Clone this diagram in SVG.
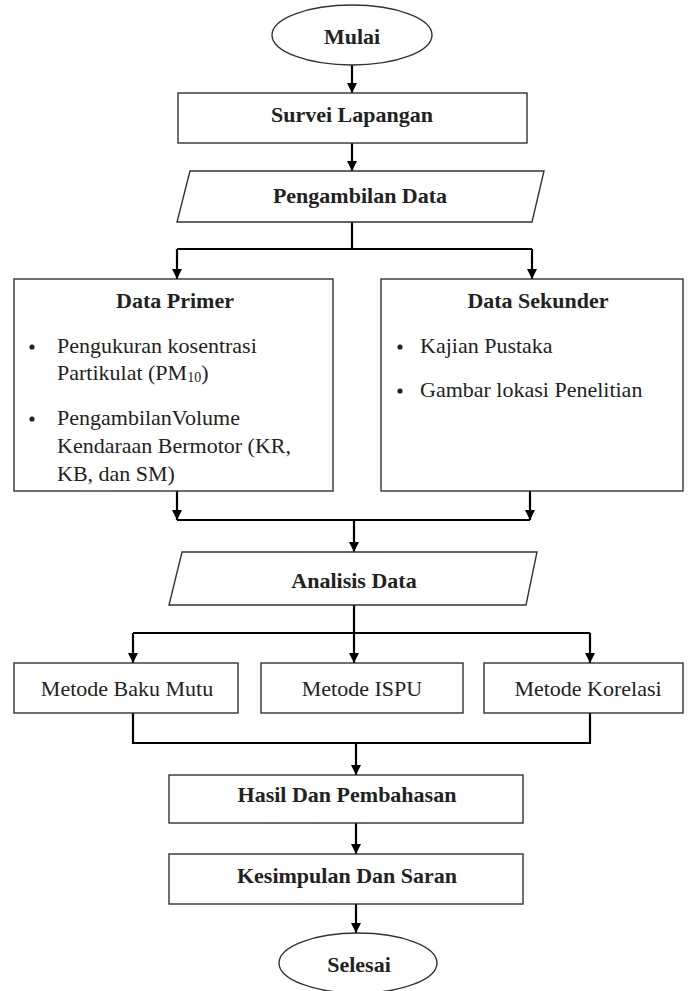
<svg xmlns="http://www.w3.org/2000/svg" width="698" height="991" viewBox="0 0 698 991">
<style>
.box{fill:#fff;stroke:#333;stroke-width:1.4}
.c{fill:none;stroke:#000;stroke-width:2.2}
.t{font-family:"Liberation Serif","Times New Roman",serif;font-size:22px;fill:#222}
.b{font-weight:bold;text-anchor:middle}
.m{text-anchor:middle}
</style>
<defs>
<marker id="ah" markerUnits="userSpaceOnUse" markerWidth="10" markerHeight="10" refX="10" refY="5" orient="auto" viewBox="0 0 10 10">
<path d="M0,0 L10,5 L0,10 z" fill="#000"/>
</marker>
</defs>
<rect width="698" height="991" fill="#fff"/>
<g id="connectors">
<line class="c" x1="352" y1="65" x2="352" y2="93" marker-end="url(#ah)"/>
<line class="c" x1="352" y1="143" x2="352" y2="171" marker-end="url(#ah)"/>
<line class="c" x1="352" y1="222" x2="352" y2="249"/>
<line class="c" x1="177" y1="249" x2="532" y2="249"/>
<line class="c" x1="177" y1="249" x2="177" y2="279" marker-end="url(#ah)"/>
<line class="c" x1="532" y1="249" x2="532" y2="279" marker-end="url(#ah)"/>
<line class="c" x1="177" y1="491" x2="177" y2="520" marker-end="url(#ah)"/>
<line class="c" x1="530" y1="491" x2="530" y2="520" marker-end="url(#ah)"/>
<line class="c" x1="177" y1="520" x2="530" y2="520"/>
<line class="c" x1="354" y1="520" x2="354" y2="552" marker-end="url(#ah)"/>
<line class="c" x1="354" y1="605" x2="354" y2="663" marker-end="url(#ah)"/>
<line class="c" x1="133" y1="633" x2="590" y2="633"/>
<line class="c" x1="133" y1="633" x2="133" y2="663" marker-end="url(#ah)"/>
<line class="c" x1="590" y1="633" x2="590" y2="663" marker-end="url(#ah)"/>
<polyline class="c" points="133,713 133,743 590,743 590,713"/>
<line class="c" x1="356" y1="743" x2="356" y2="775" marker-end="url(#ah)"/>
<line class="c" x1="356" y1="823" x2="356" y2="854" marker-end="url(#ah)"/>
<line class="c" x1="356" y1="904" x2="356" y2="933" marker-end="url(#ah)"/>
</g>
<g id="mulai">
<ellipse class="box" cx="352" cy="35" rx="80" ry="30"/>
<text class="t b" x="352" y="44">Mulai</text>
</g>
<g id="survei">
<rect class="box" x="178" y="93" width="349" height="50"/>
<text class="t b" x="352" y="122">Survei Lapangan</text>
</g>
<g id="pengambilan">
<polygon class="box" points="190,171 544,171 532,222 177,222"/>
<text class="t b" x="360" y="203">Pengambilan Data</text>
</g>
<g id="primer">
<rect class="box" x="14" y="279" width="319" height="212"/>
<text class="t b" x="175" y="308">Data Primer</text>
<circle cx="32" cy="347" r="2.6" fill="#222"/>
<text class="t" x="57" y="353">Pengukuran kosentrasi</text>
<text class="t" x="57" y="380">Partikulat (PM<tspan font-size="14" dy="2">10</tspan><tspan dy="-2">)</tspan></text>
<circle cx="32" cy="419" r="2.6" fill="#222"/>
<text class="t" x="57" y="425">PengambilanVolume</text>
<text class="t" x="57" y="453">Kendaraan Bermotor (KR,</text>
<text class="t" x="57" y="481">KB, dan SM)</text>
</g>
<g id="sekunder">
<rect class="box" x="381" y="279" width="302" height="212"/>
<text class="t b" x="538" y="308">Data Sekunder</text>
<circle cx="400" cy="347" r="2.6" fill="#222"/>
<text class="t" x="420" y="353">Kajian Pustaka</text>
<circle cx="400" cy="391" r="2.6" fill="#222"/>
<text class="t" x="420" y="397">Gambar lokasi Penelitian</text>
</g>
<g id="analisis">
<polygon class="box" points="182,552 537,552 526,605 169,605"/>
<text class="t b" x="354" y="588">Analisis Data</text>
</g>
<g id="bakumutu">
<rect class="box" x="14" y="663" width="224" height="50"/>
<text class="t m" x="127" y="696">Metode Baku Mutu</text>
</g>
<g id="ispu">
<rect class="box" x="261" y="663" width="202" height="50"/>
<text class="t m" x="362" y="696">Metode ISPU</text>
</g>
<g id="korelasi">
<rect class="box" x="484" y="663" width="199" height="50"/>
<text class="t m" x="588" y="696">Metode Korelasi</text>
</g>
<g id="hasil">
<rect class="box" x="169" y="775" width="354" height="48"/>
<text class="t b" x="347" y="802">Hasil Dan Pembahasan</text>
</g>
<g id="kesimpulan">
<rect class="box" x="169" y="854" width="354" height="50"/>
<text class="t b" x="347" y="883">Kesimpulan Dan Saran</text>
</g>
<g id="selesai">
<ellipse class="box" cx="358" cy="963" rx="79" ry="30"/>
<text class="t b" x="359" y="972">Selesai</text>
</g>
</svg>
